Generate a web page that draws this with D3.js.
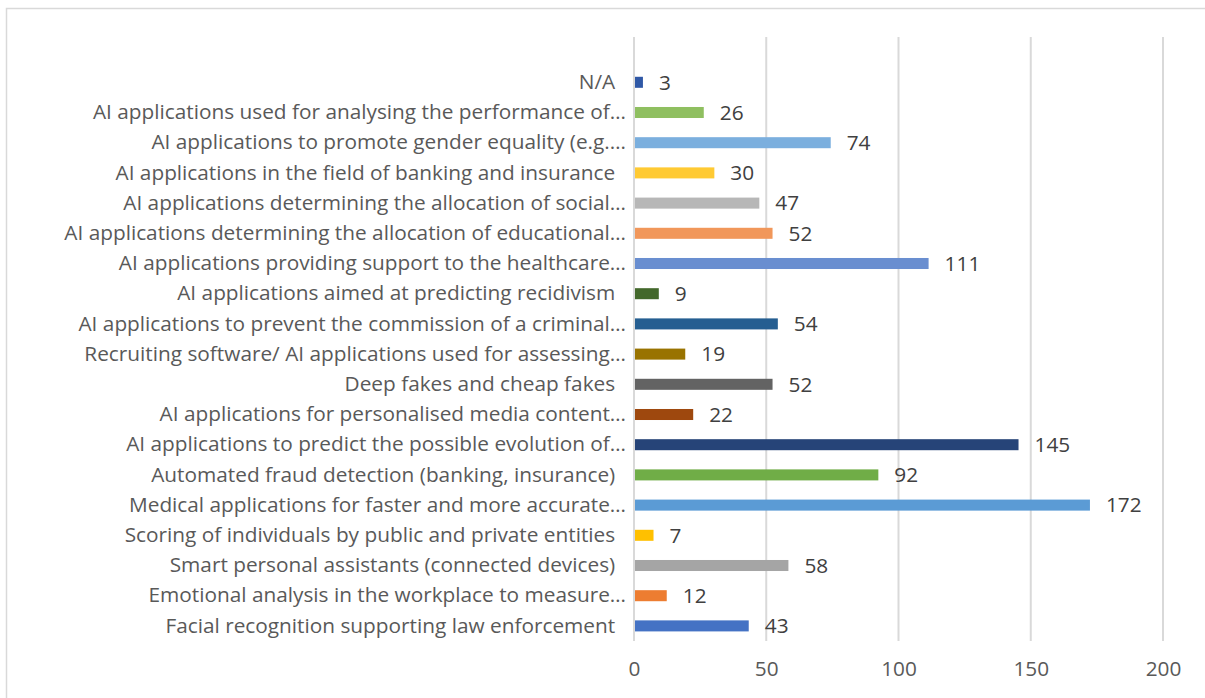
<!DOCTYPE html>
<html>
<head>
<meta charset="utf-8">
<script src="https://cdn.jsdelivr.net/npm/d3@7"></script>
<style>
  html, body { margin: 0; padding: 0; background: #fff; }
  svg text { white-space: pre; }
</style>
</head>
<body>
<svg id="chart" width="1205" height="698"></svg>
<script>
const categories = [
  "N/A  ",
  "AI applications used for analysing the performance of…",
  "AI applications to promote gender equality (e.g.…",
  "AI applications in the field of banking and insurance  ",
  "AI applications determining the allocation of social…",
  "AI applications determining the allocation of educational…",
  "AI applications providing support to the healthcare…",
  "AI applications aimed at predicting recidivism  ",
  "AI applications to prevent the commission of a criminal…",
  "Recruiting software/ AI applications used for assessing…",
  "Deep fakes and cheap fakes  ",
  "AI applications for personalised media content…",
  "AI applications to predict the possible evolution of…",
  "Automated fraud detection (banking, insurance)  ",
  "Medical applications for faster and more accurate…",
  "Scoring of individuals by public and private entities  ",
  "Smart personal assistants (connected devices)  ",
  "Emotional analysis in the workplace to measure…",
  "Facial recognition supporting law enforcement  "
];
const values = [3, 26, 74, 30, 47, 52, 111, 9, 54, 19, 52, 22, 145, 92, 172, 7, 58, 12, 43];
const colors = ["#2F58A6", "#8FBF60", "#7BAFDE", "#FFCA33", "#B7B7B7", "#F1975A", "#698ED0",
  "#43682B", "#255E91", "#997300", "#636363", "#9E480E", "#264478", "#70AD47", "#5B9BD5",
  "#FFC000", "#A5A5A5", "#ED7D31", "#4472C4"];
const xTicks = [0, 50, 100, 150, 200];

const svg = d3.select("#chart");
const font = "'Open Sans', 'Noto Sans', sans-serif";
const fs = 20.8;

// outer chart border
svg.append("rect").attr("x", 6.5).attr("y", 8.5).attr("width", 1220).attr("height", 720)
  .attr("fill", "none").attr("stroke", "#D9D9D9").attr("stroke-width", 1.5);

const plotLeft = 634, plotRight = 1163, plotTop = 37, plotBottom = 641;
const x = d3.scaleLinear().domain([0, 200]).range([plotLeft, plotRight]);
// 20 slots in plot area; top slot empty
const slot = (plotBottom - plotTop) / 20;
const y = d3.scaleBand().domain(categories).range([plotTop + slot, plotBottom]).paddingInner(0.635).paddingOuter(0.3175);

// gridlines
const grid = svg.append("g");
grid.selectAll("line").data(xTicks).join("line")
  .attr("x1", d => x(d)).attr("x2", d => x(d))
  .attr("y1", plotTop).attr("y2", plotBottom)
  .attr("stroke", "#D9D9D9").attr("stroke-width", 2);

// x axis labels
const xAxis = d3.axisBottom(x).tickValues(xTicks).tickSize(0).tickPadding(0);
const gx = svg.append("g").attr("transform", `translate(0,${plotBottom + 20})`).call(xAxis);
gx.select(".domain").remove();
gx.selectAll("text").attr("font-family", font).attr("font-size", fs).attr("fill", "#595959")
  .attr("dy", "0.71em");

// y axis labels
const yAxis = d3.axisLeft(y).tickSize(0).tickPadding(8);
const gy = svg.append("g").attr("transform", `translate(${plotLeft},0)`).call(yAxis);
gy.select(".domain").remove();
gy.selectAll("text").attr("font-family", font).attr("font-size", fs).attr("fill", "#595959");

// bars
svg.append("g").selectAll("rect").data(values).join("rect")
  .attr("x", x(0) + 1)
  .attr("y", (d, i) => y(categories[i]))
  .attr("width", d => x(d) - x(0))
  .attr("height", y.bandwidth())
  .attr("fill", (d, i) => colors[i]);

// value labels
svg.append("g").selectAll("text").data(values).join("text")
  .attr("x", d => x(d) + 17)
  .attr("y", (d, i) => y(categories[i]) + y.bandwidth() / 2)
  .attr("dy", "0.35em")
  .attr("font-family", font).attr("font-size", fs).attr("fill", "#404040")
  .text(d => d);
</script>
</body>
</html>
